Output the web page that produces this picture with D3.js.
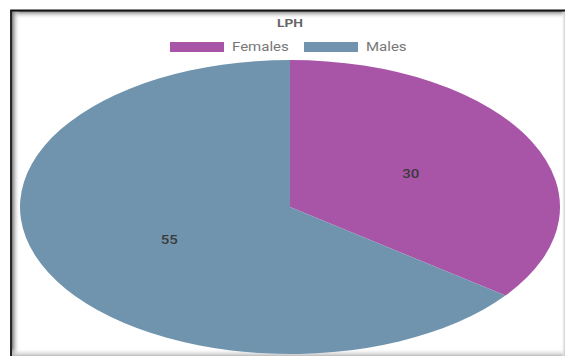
<!DOCTYPE html>
<html>
<head>
<meta charset="utf-8">
<script src="https://cdn.jsdelivr.net/npm/d3@7"></script>
<style>
  html, body { margin: 0; padding: 0; background: #fff; }
  svg { display: block; }
</style>
</head>
<body>
<svg id="chart" width="565" height="356"></svg>
<script>
// Chart data
const title = "LPH";
const categories = ["Females", "Males"];
const values = [30, 55];
const colors = ["#a855a8", "#7194ae"];

const W = 565, H = 356;
const svg = d3.select("#chart");
const defs = svg.append("defs");

// Linear gradient helper for the panel's shaded edges
function grad(id, x1, y1, x2, y2, from, to) {
  const g = defs.append("linearGradient").attr("id", id)
    .attr("x1", x1).attr("y1", y1).attr("x2", x2).attr("y2", y2);
  g.append("stop").attr("offset", "0%").attr("stop-color", from.c).attr("stop-opacity", from.o);
  g.append("stop").attr("offset", "100%").attr("stop-color", to.c).attr("stop-opacity", to.o);
}
grad("gTop", 0, 0, 0, 1, { c: "#777", o: 1 }, { c: "#fff", o: 0 });
grad("gLeft", 0, 0, 1, 0, { c: "#777", o: 1 }, { c: "#fff", o: 0 });
grad("gBottom", 0, 1, 0, 0, { c: "#bbb", o: 1 }, { c: "#fff", o: 0 });
grad("gRight", 1, 0, 0, 0, { c: "#ccc", o: 1 }, { c: "#fff", o: 0 });

svg.append("rect").attr("width", W).attr("height", H).attr("fill", "#fff");

// Shaded panel edges
svg.append("rect").attr("x", 11).attr("y", 11).attr("width", W - 11).attr("height", 8).attr("fill", "url(#gTop)");
svg.append("rect").attr("x", 12).attr("y", 11).attr("width", 8).attr("height", H - 11).attr("fill", "url(#gLeft)");
svg.append("rect").attr("x", 11).attr("y", H - 8).attr("width", W - 11).attr("height", 8).attr("fill", "url(#gBottom)");
svg.append("rect").attr("x", W - 4).attr("y", 11).attr("width", 4).attr("height", H - 11).attr("fill", "url(#gRight)");

// Horizontal stretch of the drawing
const sx = 1.25;
const cx = 290, cy = 207, rx = 270, ry = 147;

// Pie
const pie = d3.pie().sort(null).value(d => d)(values);
const arc = d3.arc().innerRadius(0).outerRadius(ry);

const pieG = svg.append("g")
  .attr("transform", `translate(${cx},${cy}) scale(${rx / ry},1)`);
pieG.selectAll("path").data(pie).join("path")
  .attr("d", arc)
  .attr("fill", (d, i) => colors[i]);

// Value labels at slice centroids
svg.append("g").selectAll("text").data(pie).join("text")
  .attr("transform", d => {
    const [x, y] = arc.centroid(d);
    return `translate(${cx + x * rx / ry},${cy + y}) scale(${sx},1)`;
  })
  .attr("text-anchor", "middle")
  .attr("dy", "0.35em")
  .attr("font-family", "Roboto, 'Noto Sans', sans-serif")
  .attr("font-size", 12)
  .attr("font-weight", 500)
  .attr("fill", "#3a3a3a")
  .text(d => d.value);

// Title
svg.append("text")
  .attr("transform", `translate(${cx},23) scale(${sx},1)`)
  .attr("text-anchor", "middle").attr("dy", "0.35em")
  .attr("font-family", "Roboto, 'Noto Sans', sans-serif")
  .attr("font-size", 11).attr("font-weight", 700)
  .attr("fill", "#666")
  .text(title);

// Legend
const legendItems = [
  { x: 170, label: categories[0], color: colors[0] },
  { x: 304, label: categories[1], color: colors[1] }
];
const lg = svg.append("g").selectAll("g").data(legendItems).join("g");
lg.append("rect")
  .attr("x", d => d.x).attr("y", 42)
  .attr("width", 54).attr("height", 10)
  .attr("fill", d => d.color);
lg.append("text")
  .attr("transform", d => `translate(${d.x + 62},47) scale(${sx},1)`)
  .attr("dy", "0.35em")
  .attr("font-family", "Roboto, 'Noto Sans', sans-serif")
  .attr("font-size", 12)
  .attr("fill", "#777")
  .text(d => d.label);

// Frame lines (top and left)
svg.append("path")
  .attr("d", `M${W},10.5 H11 V${H}`)
  .attr("fill", "none").attr("stroke", "#111").attr("stroke-width", 1.8);
</script>
</body>
</html>
